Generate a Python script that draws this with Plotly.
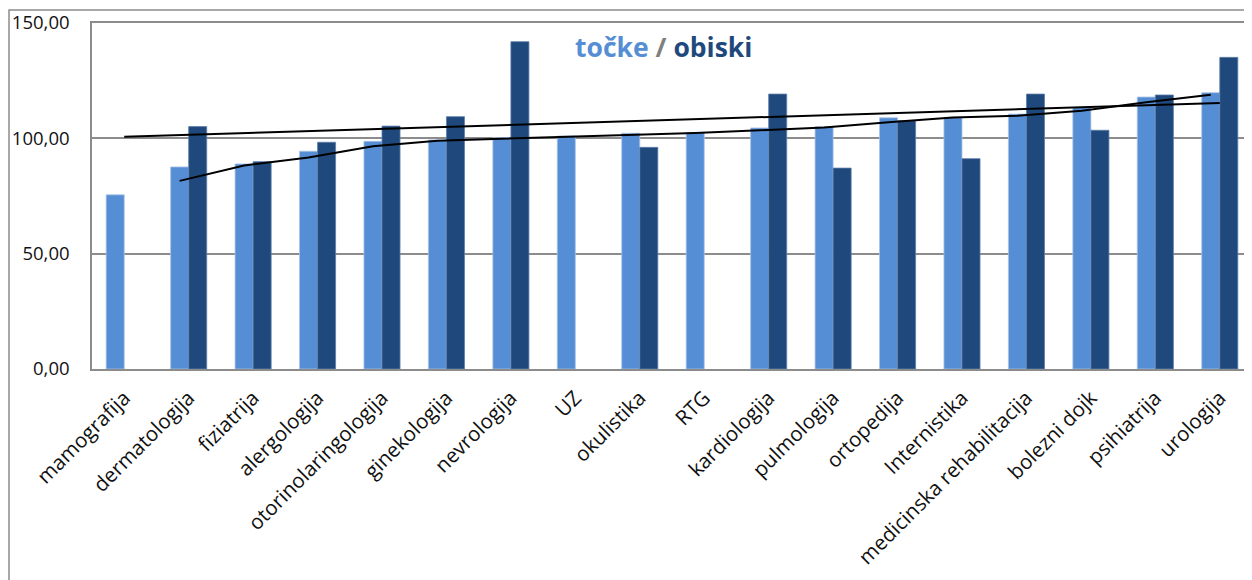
import numpy as np
import plotly.graph_objects as go

categories = ["mamografija", "dermatologija", "fiziatrija", "alergologija",
              "otorinolaringologija", "ginekologija", "nevrologija", "UZ",
              "okulistika", "RTG", "kardiologija", "pulmologija", "ortopedija",
              "Internistika", "medicinska rehabilitacija", "bolezni dojk",
              "psihiatrija", "urologija"]
tocke = [75.5, 87.6, 88.9, 94.4, 98.7, 99.3, 100.3, 101.0, 102.2, 102.5,
         104.5, 105.0, 108.9, 109.1, 110.5, 113.4, 117.9, 119.8]
obiski = [None, 105.1, 89.9, 98.3, 105.3, 109.4, 141.9, None, 96.1, None,
          119.2, 87.1, 107.6, 91.2, 119.2, 103.5, 118.8, 135.1]
y_ticks = [0, 50, 100, 150]
y_ticktext = ["0,00", "50,00", "100,00", "150,00"]

LIGHT = "#558ED5"
DARK = "#1F497D"
FONT = "Open Sans"

# page body has an 8px margin; figure origin is at page (8, 8)
W, H = 1244, 572
L, T, B = 84, 15, 211
PW, PH = W - L, H - T - B

idx = np.arange(len(categories))

# 2-period moving average of "točke", drawn at the light-bar centres
ma_x = idx[1:] - 0.14
ma_y = [(tocke[i - 1] + tocke[i]) / 2 for i in range(1, len(tocke))]

# linear trend of "obiski" (blank categories skipped)
ox = np.array([i for i, v in enumerate(obiski) if v is not None], dtype=float)
oy = np.array([v for v in obiski if v is not None], dtype=float)
slope, icpt = np.polyfit(ox, oy, 1)
lin_x = np.array([idx[0], idx[-1]], dtype=float)
lin_y = icpt + slope * lin_x

fig = go.Figure()
fig.add_trace(go.Bar(x=idx, y=tocke, name="točke", marker_color=LIGHT,
                     marker_line=dict(color="#A9C3E4", width=0.8)))
fig.add_trace(go.Bar(x=idx, y=obiski, name="obiski", marker_color=DARK,
                     marker_line=dict(color="#5F7FA8", width=0.8)))
fig.add_trace(go.Scatter(x=lin_x, y=lin_y, mode="lines",
                         line=dict(color="black", width=2), showlegend=False))
fig.add_trace(go.Scatter(x=ma_x, y=ma_y, mode="lines",
                         line=dict(color="black", width=2), showlegend=False))

fig.update_layout(
    width=W, height=H,
    margin=dict(l=L, r=0, t=T, b=B, autoexpand=False),
    paper_bgcolor="white", plot_bgcolor="white",
    barmode="group", bargap=0.44, bargroupgap=0,
    showlegend=False,
    font=dict(family=FONT, size=18, color="#111111"),
)
fig.update_xaxes(
    range=[-0.5, len(categories) - 0.5],
    tickmode="array", tickvals=idx, ticktext=categories,
    tickangle=-45, ticks="outside", ticklen=7, tickcolor="rgba(0,0,0,0)",
    showgrid=False, showline=True, linecolor="#8C8C8C", linewidth=1.5,
    mirror=True, zeroline=False, tickfont=dict(size=20.5),
)
fig.update_yaxes(
    range=[0, 150], tickmode="array", tickvals=y_ticks, ticktext=y_ticktext,
    ticks="outside", ticklen=17, tickcolor="rgba(0,0,0,0)",
    showgrid=True, gridcolor="#8C8C8C", gridwidth=1.5,
    showline=True, linecolor="#8C8C8C", linewidth=1.5, mirror=True,
    zeroline=False, tickfont=dict(size=18.5),
)

# outer chart-area border
fig.add_shape(type="rect", xref="paper", yref="paper",
              x0=(1 - L) / PW, x1=1.05, y0=-0.8, y1=1 + (T - 2) / PH,
              line=dict(color="#8C8C8C", width=1.5), fillcolor="rgba(0,0,0,0)",
              layer="below")

fig.add_annotation(
    xref="paper", yref="paper", x=(655 - L) / PW, y=(H - B - 39) / PH,
    text="<b><span style='color:%s'>točke</span> "
         "<span style='color:#7F7F7F'>/</span> "
         "<span style='color:%s'>obiski</span></b>" % (LIGHT, DARK),
    showarrow=False, font=dict(family=FONT, size=26.5),
    xanchor="center", yanchor="middle",
)

fig.write_html("out.html")
